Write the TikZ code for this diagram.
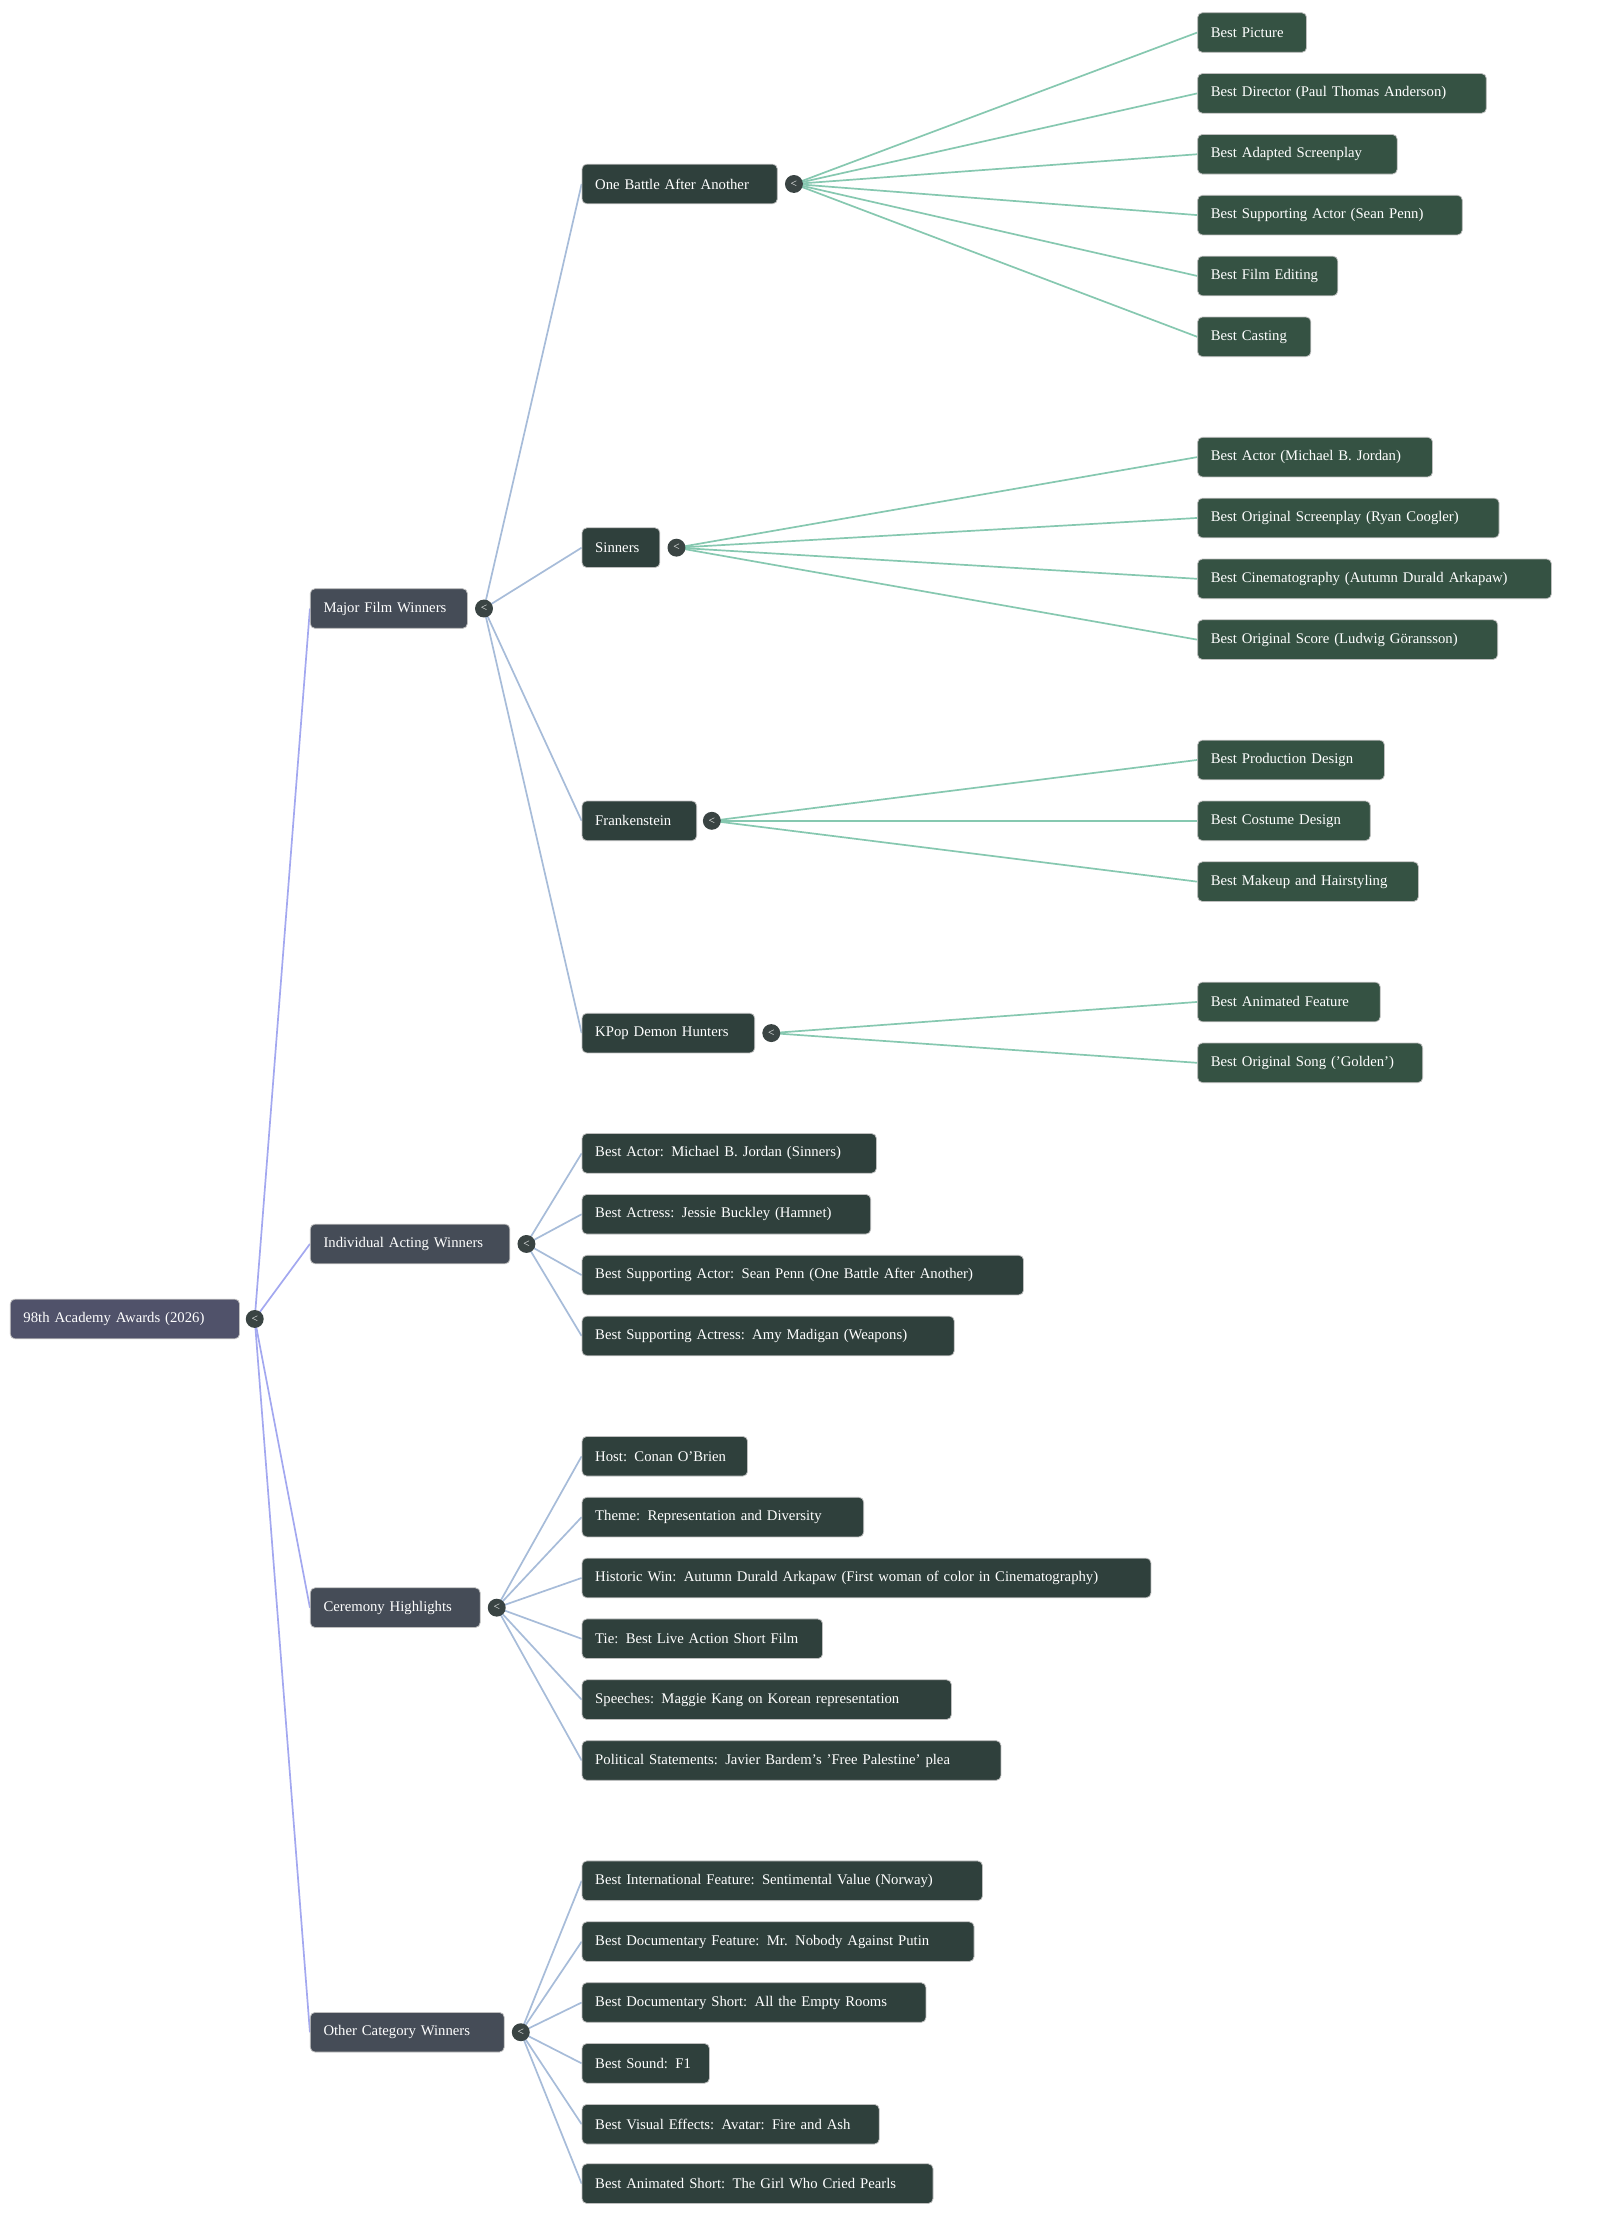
\documentclass[tikz,border=0pt]{standalone}
\usepackage{fontspec}
\setmainfont{Liberation Serif}
\usetikzlibrary{calc,backgrounds}
\begin{document}
\definecolor{rootc}{HTML}{50526A}
\definecolor{l1c}{HTML}{454C57}
\definecolor{l2c}{HTML}{2F403C}
\definecolor{l3c}{HTML}{355243}
\definecolor{e1}{HTML}{A3A8F0}
\definecolor{e2}{HTML}{A7BCD9}
\definecolor{e3}{HTML}{86C8B0}
\definecolor{circ}{HTML}{3A4443}
\tikzset{
  box/.style={rounded corners=2.5pt, draw=white!75!black, line width=0.4pt, text=white, font=\fontsize{7.8}{9}\selectfont, minimum height=21pt, inner xsep=7pt, align=left},
  rootb/.style={box, fill=rootc},
  l1b/.style={box, fill=l1c},
  l2b/.style={box, fill=l2c},
  l3b/.style={box, fill=l3c},
  tog/.style={circle, fill=circ, inner sep=0pt, minimum size=9.5pt, text=white, font=\fontsize{6}{6}\selectfont},
  edge/.style={line width=0.9pt}
}
\newcommand\mybox[6]{\pgfmathsetmacro\w{(#3-#2)*0.75-14}\node[#1, text width=\w pt, anchor=west] (#4) at (#2,#5) {#6};}
\newcommand\tg[3]{\node[tog] (#1) at (#2,#3) {<};}
\newcommand\cn[3]{\draw[edge,#3] (#1.center) .. controls ($(#1.center)!0.5!(#2.west)$ |- #1.center) and ($(#1.center)!0.5!(#2.west)$ |- #2.west) .. (#2.west);}
\begin{tikzpicture}[x=0.75pt,y=-0.75pt]
\useasboundingbox (0,0) rectangle (1131,1580);
% nodes
\mybox{rootb}{7}{169}{root}{932}{98th Academy Awards (2026)}
\mybox{l1b}{219}{330}{mfw}{430}{Major Film Winners}
\mybox{l1b}{219}{360}{iaw}{879}{Individual Acting Winners}
\mybox{l1b}{219}{339}{ch}{1136}{Ceremony Highlights}
\mybox{l1b}{219}{356}{ocw}{1436}{Other Category Winners}
\mybox{l2b}{411}{549}{oba}{130}{One Battle After Another}
\mybox{l2b}{411}{466}{sin}{387}{Sinners}
\mybox{l2b}{411}{492}{fra}{580}{Frankenstein}
\mybox{l2b}{411}{533}{kpo}{730}{KPop Demon Hunters}
\mybox{l3b}{846}{923}{a1}{23}{Best Picture}
\mybox{l3b}{846}{1050}{a2}{66}{Best Director (Paul Thomas Anderson)}
\mybox{l3b}{846}{987}{a3}{109}{Best Adapted Screenplay}
\mybox{l3b}{846}{1033}{a4}{152}{Best Supporting Actor (Sean Penn)}
\mybox{l3b}{846}{945}{a5}{195}{Best Film Editing}
\mybox{l3b}{846}{926}{a6}{238}{Best Casting}
\mybox{l3b}{846}{1012}{b1}{323}{Best Actor (Michael B. Jordan)}
\mybox{l3b}{846}{1059}{b2}{366}{Best Original Screenplay (Ryan Coogler)}
\mybox{l3b}{846}{1096}{b3}{409}{Best Cinematography (Autumn Durald Arkapaw)}
\mybox{l3b}{846}{1058}{b4}{452}{Best Original Score (Ludwig Göransson)}
\mybox{l3b}{846}{978}{c1}{537}{Best Production Design}
\mybox{l3b}{846}{968}{c2}{580}{Best Costume Design}
\mybox{l3b}{846}{1002}{c3}{623}{Best Makeup and Hairstyling}
\mybox{l3b}{846}{975}{d1}{708}{Best Animated Feature}
\mybox{l3b}{846}{1005}{d2}{751}{Best Original Song ('Golden')}
\mybox{l2b}{411}{619}{i1}{815}{Best Actor: Michael B. Jordan (Sinners)}
\mybox{l2b}{411}{615}{i2}{858}{Best Actress: Jessie Buckley (Hamnet)}
\mybox{l2b}{411}{723}{i3}{901}{Best Supporting Actor: Sean Penn (One Battle After Another)}
\mybox{l2b}{411}{674}{i4}{944}{Best Supporting Actress: Amy Madigan (Weapons)}
\mybox{l2b}{411}{528}{h1}{1029}{Host: Conan O'Brien}
\mybox{l2b}{411}{610}{h2}{1072}{Theme: Representation and Diversity}
\mybox{l2b}{411}{813}{h3}{1115}{Historic Win: Autumn Durald Arkapaw (First woman of color in Cinematography)}
\mybox{l2b}{411}{581}{h4}{1158}{Tie: Best Live Action Short Film}
\mybox{l2b}{411}{672}{h5}{1201}{Speeches: Maggie Kang on Korean representation}
\mybox{l2b}{411}{707}{h6}{1244}{Political Statements: Javier Bardem's 'Free Palestine' plea}
\mybox{l2b}{411}{694}{o1}{1329}{Best International Feature: Sentimental Value (Norway)}
\mybox{l2b}{411}{688}{o2}{1372}{Best Documentary Feature: Mr. Nobody Against Putin}
\mybox{l2b}{411}{654}{o3}{1415}{Best Documentary Short: All the Empty Rooms}
\mybox{l2b}{411}{501}{o4}{1458}{Best Sound: F1}
\mybox{l2b}{411}{621}{o5}{1501}{Best Visual Effects: Avatar: Fire and Ash}
\mybox{l2b}{411}{659}{o6}{1543}{Best Animated Short: The Girl Who Cried Pearls}
% toggles
\tg{troot}{180}{932}
\tg{tmfw}{342}{430}
\tg{tiaw}{372}{879}
\tg{tch}{351}{1136}
\tg{tocw}{368}{1436}
\tg{toba}{561}{130}
\tg{tsin}{478}{387}
\tg{tfra}{503}{580}
\tg{tkpo}{545}{730}
% edges
\begin{pgfonlayer}{background}
\fill[white] (0,0) rectangle (1131,1580);
\foreach \c in {mfw,iaw,ch,ocw}{\cn{troot}{\c}{e1}}
\foreach \c in {oba,sin,fra,kpo}{\cn{tmfw}{\c}{e2}}
\foreach \c in {i1,i2,i3,i4}{\cn{tiaw}{\c}{e2}}
\foreach \c in {h1,h2,h3,h4,h5,h6}{\cn{tch}{\c}{e2}}
\foreach \c in {o1,o2,o3,o4,o5,o6}{\cn{tocw}{\c}{e2}}
\foreach \c in {a1,a2,a3,a4,a5,a6}{\cn{toba}{\c}{e3}}
\foreach \c in {b1,b2,b3,b4}{\cn{tsin}{\c}{e3}}
\foreach \c in {c1,c2,c3}{\cn{tfra}{\c}{e3}}
\foreach \c in {d1,d2}{\cn{tkpo}{\c}{e3}}
\end{pgfonlayer}
\end{tikzpicture}
\end{document}
